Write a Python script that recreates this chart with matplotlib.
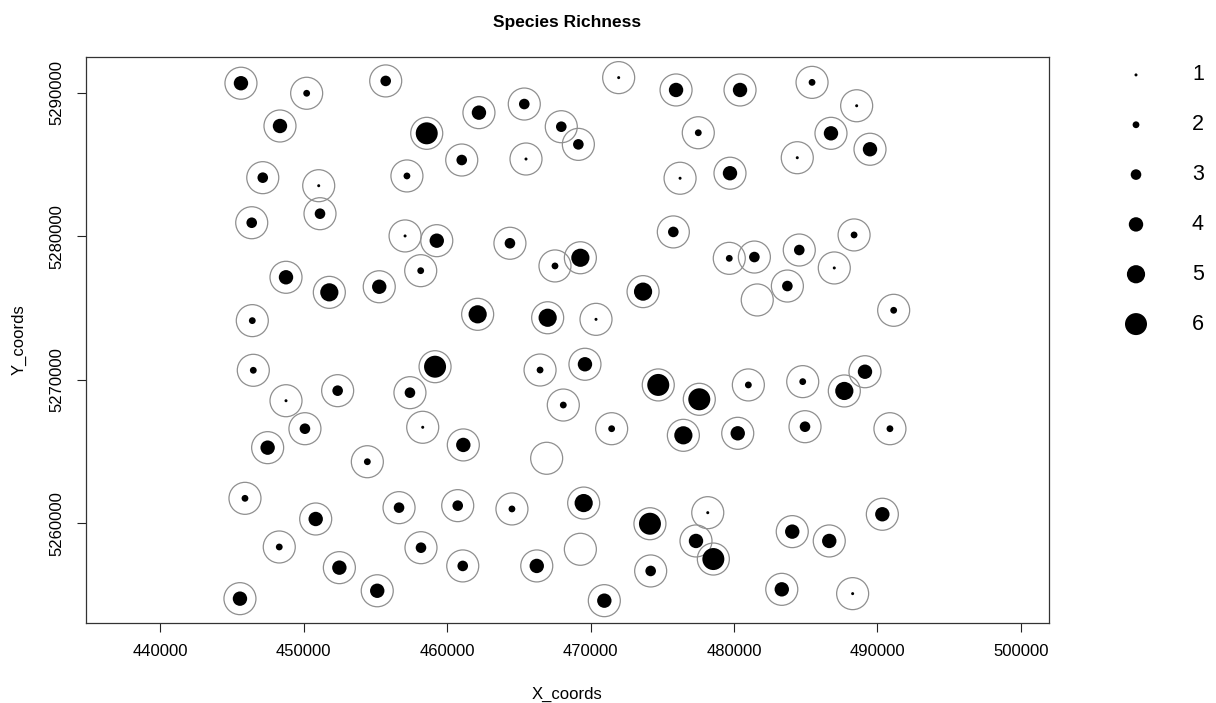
import matplotlib
matplotlib.use("Agg")
import matplotlib.pyplot as plt
import numpy as np

plt.rcParams['font.family'] = ['Liberation Sans', 'DejaVu Sans']

# ---- data ----
x_coords = [445630, 450210, 455720, 448350, 447150, 451050, 451140, 446380, 457200, 457070,
            448770, 451790, 455270, 446420, 458580, 462220, 465380, 467960, 469150, 461020,
            465500, 471960, 475960, 477510, 476240, 479720, 459280, 458160, 464380, 467520,
            469290, 475770, 473660, 462130, 467010, 470380, 479670, 480420, 485440, 488550,
            486760, 489480, 484410, 481420, 484550, 488370, 486990, 483720, 481620, 491130,
            446490, 448770, 452370, 457410, 450090, 447490, 454440, 445910, 450840, 456650,
            448300, 452490, 455130, 445560, 459160, 458300, 461130, 466480, 469610, 468100,
            471470, 466940, 474720, 477580, 476470, 480260, 460740, 464520, 469520, 474140,
            478170, 477350, 478560, 458180, 461090, 466250, 469290, 474190, 470960, 481000,
            484790, 489130, 487690, 484950, 490870, 490340, 484060, 486640, 483330, 488270]
y_coords = [5290660, 5289960, 5290820, 5287680, 5284080, 5283520, 5281570, 5280940, 5284200, 5280020,
            5277140, 5276090, 5276480, 5274120, 5287170, 5288610, 5289210, 5287630, 5286400, 5285310,
            5285380, 5291050, 5290190, 5287210, 5284040, 5284390, 5279690, 5277600, 5279510, 5277930,
            5278500, 5280300, 5276140, 5274560, 5274320, 5274210, 5278460, 5290190, 5290720, 5289090,
            5287170, 5286060, 5285470, 5278550, 5279040, 5280090, 5277790, 5276530, 5275560, 5274840,
            5270660, 5268540, 5269240, 5269100, 5266590, 5265270, 5264290, 5261740, 5260300, 5261090,
            5258350, 5256910, 5255300, 5254750, 5270910, 5266690, 5265460, 5270680, 5271080, 5268240,
            5266590, 5264530, 5269640, 5268640, 5266130, 5266270, 5261230, 5261000, 5261410, 5259970,
            5260740, 5258770, 5257510, 5258300, 5257030, 5257030, 5258190, 5256680, 5254610, 5269640,
            5269870, 5270560, 5269220, 5266730, 5266590, 5260630, 5259420, 5258770, 5255400, 5255100]
richness = [4, 2, 3, 4, 3, 1, 3, 3, 2, 1,
            4, 5, 4, 2, 6, 4, 3, 3, 3, 3,
            1, 1, 4, 2, 1, 4, 4, 2, 3, 2,
            5, 3, 5, 5, 5, 1, 2, 4, 2, 1,
            4, 4, 1, 3, 3, 2, 1, 3, 0, 2,
            2, 1, 3, 3, 3, 4, 2, 2, 4, 3,
            2, 4, 4, 4, 6, 1, 4, 2, 4, 2,
            2, 0, 6, 6, 5, 4, 3, 2, 5, 6,
            1, 4, 6, 3, 3, 4, 0, 3, 4, 2,
            2, 4, 5, 3, 2, 4, 4, 4, 4, 1]
legend_levels = [1, 2, 3, 4, 5, 6]
x_ticks = [440000, 450000, 460000, 470000, 480000, 490000, 500000]
y_ticks = [5260000, 5270000, 5280000, 5290000]

W, H, DPI = 1216, 703, 100
fig = plt.figure(figsize=(W / DPI, H / DPI), dpi=DPI)

def px_rect(l, t, r, b):
    return [l / W, 1 - b / H, (r - l) / W, (b - t) / H]

def dot_area(r):
    d_px = 3.8 * np.asarray(r, float) - 0.8
    return (d_px * 72.0 / DPI) ** 2

ax = fig.add_axes(px_rect(85.7, 56.7, 1049.0, 622.7))
xs = np.array(x_coords); ys = np.array(y_coords); rs = np.array(richness)

circ_d_pt = 32 * 72.0 / DPI
ax.scatter(xs, ys, s=circ_d_pt ** 2, facecolors='none', edgecolors='#8f8f8f',
           linewidths=0.9, zorder=2)
mask = rs > 0
ax.scatter(xs[mask], ys[mask], s=dot_area(rs[mask]), c='black', linewidths=0, zorder=3)

ax.set_xlim(434807, 501958)
ax.set_ylim(5253075, 5292508)
ax.set_xticks(x_ticks)
ax.set_xticklabels([str(v) for v in x_ticks])
ax.set_yticks(y_ticks)
ax.set_yticklabels([str(v) for v in y_ticks], rotation=90, va='center')
ax.tick_params(axis='both', length=6.5, width=0.8, labelsize=12, pad=9, color='#222222')
for sp in ax.spines.values():
    sp.set_linewidth(0.9)
    sp.set_color('#333333')
ax.set_xlabel('X_coords', fontsize=12, labelpad=20)
ax.set_ylabel('Y_coords', fontsize=12, labelpad=16)
fig.text(567.4 / W, 1 - 22 / H, 'Species Richness', ha='center', va='center',
         fontsize=12.5, fontweight='bold')

# legend drawn in its own axes
lax = fig.add_axes(px_rect(1100, 50, 1216, 349))
lax.set_xlim(0, 116)
lax.set_ylim(6.5, 0.5)
lax.axis('off')
lax.scatter([36] * len(legend_levels), legend_levels, s=dot_area(legend_levels),
            c='black', linewidths=0, clip_on=False)
for lv in legend_levels:
    lax.text(98, lv, str(lv), ha='center', va='center', fontsize=15.5)

fig.savefig('out.png', dpi=DPI)
